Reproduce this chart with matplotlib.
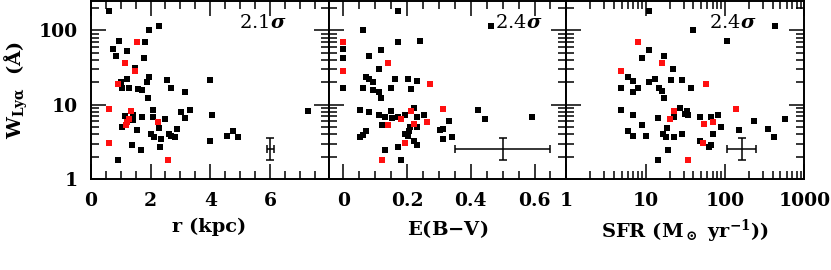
#!/usr/bin/env python3
"""Lya equivalent width against radius, reddening and star formation rate."""

import matplotlib

matplotlib.use("Agg")
import matplotlib.pyplot as plt
from matplotlib.ticker import FixedLocator, FuncFormatter, LogLocator, MultipleLocator

# --- panel 1: r (kpc) ---
r_black = [0.61, 2.28, 1.94, 0.96, 1.80, 0.74, 1.23, 0.86, 1.77, 1.47, 1.94, 1.23, 2.56,
           1.88, 1.01, 1.04, 1.29, 1.57, 1.73, 2.67, 3.14, 1.92, 4.00, 2.08, 3.31, 3.03,
           7.26, 4.07, 1.14, 1.41, 1.73, 2.08, 2.47, 3.16, 1.41, 1.06, 1.54, 2.29, 2.90,
           2.02, 2.11, 2.63, 2.69, 2.83, 2.34, 3.98, 4.57, 4.76, 4.94, 1.37, 2.32, 1.69, 0.90]
w_r_black = [181, 114, 100, 71, 70, 56, 53, 45, 43, 31, 23.5, 22.3, 21.8,
             20.5, 20.3, 16.6, 16.6, 16.4, 15.9, 16.6, 14.8, 12.5, 21.8, 8.6, 8.6, 8.1,
             8.3, 7.3, 7.0, 7.4, 6.9, 6.8, 6.5, 6.6, 6.2, 5.0, 4.6, 4.9, 4.8,
             4.0, 3.7, 4.1, 3.8, 3.7, 3.5, 3.3, 3.8, 4.5, 3.7, 2.9, 2.7, 2.5, 1.8]
r_red = [1.56, 1.14, 1.47, 0.92, 0.61, 1.36, 1.27, 1.23, 1.18, 2.24, 0.61, 2.58]
w_r_red = [69, 36.5, 28.5, 18.9, 8.7, 8.3, 6.4, 5.9, 5.3, 5.9, 3.1, 1.8]

# --- panel 2: E(B-V) ---
ebv_black = [0.172, 0.465, 0.061, 0.173, 0.241, 0.0, 0.120, 0.082, 0.0, 0.112, 0.071,
             0.082, 0.092, 0.162, 0.203, 0.232, 0.0, 0.061, 0.092, 0.151, 0.212, 0.112,
             0.120, 0.053, 0.082, 0.151, 0.112, 0.130, 0.152, 0.172, 0.193, 0.222, 0.232,
             0.253, 0.424, 0.444, 0.591, 0.333, 0.121, 0.210, 0.232, 0.072, 0.302, 0.314,
             0.193, 0.203, 0.061, 0.052, 0.206, 0.314, 0.342, 0.222, 0.232, 0.172, 0.132,
             0.182]
w_ebv_black = [181, 115, 100, 70.5, 72, 56, 54, 46, 43, 30, 23.7,
               22, 20.5, 22.5, 22, 21, 16.6, 16.7, 15.7, 16.7, 16.4, 14.8,
               12.5, 8.6, 8.1, 8.3, 7.4, 6.8, 6.7, 6.9, 7.3, 9.2, 6.9,
               7.3, 8.6, 6.5, 6.8, 6.0, 5.3, 5.0, 5.0, 4.5, 4.6, 4.8,
               4.0, 3.8, 3.9, 3.7, 4.5, 3.5, 3.7, 3.3, 2.9, 2.7, 2.5,
               1.8]
ebv_red = [0.0, 0.0, 0.142, 0.273, 0.313, 0.212, 0.182, 0.262, 0.222, 0.142, 0.193, 0.121]
w_ebv_red = [70, 28.5, 36.5, 19.1, 8.7, 8.3, 6.4, 5.9, 5.6, 5.3, 3.1, 1.8]

# --- panel 3: SFR ---
sfr_black = [11, 39, 423, 106, 11, 17, 9.0, 22, 6.0, 7.0, 11, 13.2, 21, 29, 4.9, 8.1,
             14.9, 16, 7.0, 37, 17, 4.9, 27, 33, 31, 7.0, 14.2, 23, 34, 48, 66, 82,
             234, 575, 9.0, 18.3, 6.0, 90, 151, 349, 7.0, 10.1, 16.3, 18, 22.4, 29, 70,
             415, 49, 67, 63, 19, 14.2]
w_sfr_black = [181, 101, 114, 71, 55, 45, 43, 30, 23.7, 20.9, 20.3, 22.3, 21.8, 21.8, 16.7, 16.7,
               16.7, 15.5, 14.8, 16.6, 12.5, 8.6, 9.2, 8.2, 7.5, 7.4, 6.7, 6.8, 7.2, 6.9, 6.9, 7.3,
               6.1, 6.5, 5.3, 4.9, 4.5, 5.0, 4.6, 4.8, 3.8, 3.8, 4.0, 3.7, 3.7, 4.1, 4.0,
               3.7, 3.3, 2.9, 2.7, 2.5, 1.8]
sfr_red = [8.0, 16.1, 4.9, 58, 137, 23, 20, 70, 55, 52, 34]
w_sfr_red = [70, 36.5, 28.5, 19.1, 8.7, 8.3, 6.4, 5.9, 5.5, 3.1, 1.8]

# typical uncertainties: (x, y, xerr, yerr_low, yerr_high)
err_r = (6.0, 2.55, 0.12, 0.72, 1.05)
err_ebv = (0.5, 2.55, 0.15, 0.72, 1.05)
err_sfr = (162, 2.55, None, 0.72, 1.05)
err_sfr_x = (55, 84)  # low / high

sigmas = ["2.1", "2.4", "2.4"]

plt.rcParams["font.family"] = "DejaVu Serif"
plt.rcParams["mathtext.fontset"] = "dejavuserif"
plt.rcParams["font.size"] = 13.5
plt.rcParams["font.weight"] = "bold"
plt.rcParams["axes.labelweight"] = "bold"
plt.rcParams["mathtext.default"] = "regular"

fig, axes = plt.subplots(1, 3, figsize=(8.31, 2.70), dpi=100, sharey=True)
fig.subplots_adjust(left=0.1091, right=0.9679, top=0.998, bottom=0.336, wspace=0)

ms = 4.4
red = "#ff1010"

panels = [
    (r_black, w_r_black, r_red, w_r_red),
    (ebv_black, w_ebv_black, ebv_red, w_ebv_red),
    (sfr_black, w_sfr_black, sfr_red, w_sfr_red),
]
sigma_x = [0.723, 0.80, 0.698]

for i, (ax, (xb, yb, xr, yr)) in enumerate(zip(axes, panels)):
    ax.plot(xb, yb, "s", color="black", ms=ms, mew=0, zorder=3)
    ax.plot(xr, yr, "s", color=red, ms=ms, mew=0, zorder=4)
    ax.set_yscale("log")
    ax.set_ylim(1, 252)
    ax.tick_params(which="both", direction="in", top=True, right=True, width=1.1)
    ax.tick_params(which="major", length=10.5, pad=9)
    ax.tick_params(which="minor", length=5.5)
    for sp in ax.spines.values():
        sp.set_linewidth(1.4)
    ax.text(sigma_x[i], 0.875, sigmas[i] + r"$\mathit{\sigma}$", transform=ax.transAxes,
            ha="center", va="center", fontsize=14, fontweight="normal")

ax1, ax2, ax3 = axes

ax1.set_xlim(0, 7.95)
ax1.xaxis.set_major_locator(MultipleLocator(2))
ax1.xaxis.set_minor_locator(MultipleLocator(0.5))
ax1.errorbar(err_r[0], err_r[1], xerr=err_r[2], yerr=[[err_r[3]], [err_r[4]]],
             fmt="none", ecolor="black", elinewidth=1.1, capsize=3, capthick=1.1)
ax1.set_xlabel("r (kpc)", labelpad=6, fontsize=14)

ax2.set_xlim(-0.046, 0.70)
ax2.xaxis.set_major_locator(MultipleLocator(0.2))
ax2.xaxis.set_minor_locator(MultipleLocator(0.05))
ax2.xaxis.set_major_formatter(FuncFormatter(lambda v, p: "0" if abs(v) < 1e-9 else f"{v:.1f}"))
ax2.errorbar(err_ebv[0], err_ebv[1], xerr=err_ebv[2], yerr=[[err_ebv[3]], [err_ebv[4]]],
             fmt="none", ecolor="black", elinewidth=1.1, capsize=3, capthick=1.1)
ax2.set_xlabel("E(B$-$V)", labelpad=6, fontsize=14)

ax3.set_xscale("log")
ax3.set_xlim(1, 1000)
ax3.xaxis.set_major_locator(FixedLocator([1, 10, 100, 1000]))
ax3.xaxis.set_minor_locator(LogLocator(base=10, subs=range(2, 10)))
ax3.xaxis.set_major_formatter(FuncFormatter(lambda v, p: f"{v:g}"))
ax3.errorbar(err_sfr[0], err_sfr[1], xerr=[[err_sfr_x[0]], [err_sfr_x[1]]],
             yerr=[[err_sfr[3]], [err_sfr[4]]],
             fmt="none", ecolor="black", elinewidth=1.1, capsize=3, capthick=1.1)
ax3.set_xlabel(r"SFR (M$_\odot$ yr$^{-1}$))", labelpad=6, fontsize=14)

ax1.yaxis.set_major_locator(FixedLocator([1, 10, 100]))
ax1.yaxis.set_minor_locator(LogLocator(base=10, subs=range(2, 10)))
ax1.yaxis.set_major_formatter(FuncFormatter(lambda v, p: f"{v:g}"))
ax1.set_ylabel(r"W$_{Ly\alpha}$  (Å)", fontsize=14)
ax1.yaxis.set_label_coords(-0.255, 0.5)

fig.savefig("out.png", dpi=100)
